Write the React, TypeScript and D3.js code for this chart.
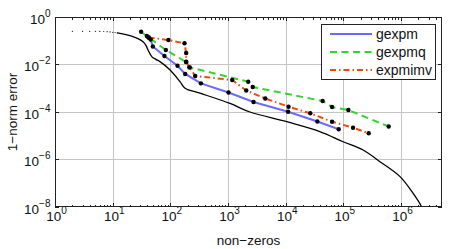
import React, { useEffect, useRef } from 'react';
import * as d3 from 'd3';

// [non-zeros, 1-norm error]
const gexpm: [number, number][] = [
  [45.5, 0.113], [49.7, 0.0573], [79, 0.0228], [133, 0.0089], [181, 0.004],
  [339, 0.00161], [1020, 6.6e-4], [2770, 2.64e-4], [1.1e4, 1.03e-4],
  [3.54e4, 3.98e-5], [8.3e4, 1.87e-5],
];

const gexpmq: [number, number][] = [
  [31.1, 0.24], [39.1, 0.158], [42, 0.137], [83.5, 0.0408], [188, 0.0127],
  [215, 0.0076], [2240, 0.00189], [2680, 0.00113], [4.37e4, 2.9e-4],
  [6.37e4, 1.62e-4], [1.22e5, 1.21e-4], [6.1e5, 2.45e-5],
];

const expmimv: [number, number][] = [
  [42, 0.137], [92.7, 0.1075], [176, 0.078], [188, 0.0305], [188, 0.0131],
  [215, 0.0076], [270, 0.00328], [1183, 0.00223], [2070, 8.04e-4],
  [4420, 3.7e-4], [1.12e4, 1.67e-4], [2.67e4, 8.8e-5], [6.37e4, 3.9e-5],
  [1.47e5, 2.18e-5], [2.75e5, 1.27e-5],
];

// black reference curve: sparse samples at the start, then a line
const refDots: [number, number][] = [
  [2, 0.25], [3, 0.25], [4, 0.25], [5, 0.25], [6, 0.248], [7, 0.245],
  [8, 0.24], [9, 0.235], [10, 0.228], [11, 0.22], [12, 0.213],
];
const refLine: [number, number][] = [
  [12, 0.213], [13.4, 0.206], [17, 0.18], [22.5, 0.148], [28, 0.12], [33.6, 0.091],
  [38, 0.062], [41, 0.041], [48, 0.021], [56, 0.0165], [66, 0.0132], [99, 0.0059],
  [147, 0.0019], [180, 0.001], [327, 6.2e-4], [1080, 2.3e-4], [2400, 1.0e-4],
  [1.04e4, 3.9e-5], [3.9e4, 1.5e-5], [9.9e4, 5.6e-6], [2.2e5, 2.5e-6],
  [4.3e5, 8.1e-7], [9.6e5, 1.9e-7], [1.6e6, 3.9e-8], [2.28e6, 1e-8], [2.6e6, 4e-9],
];

const xTicks = [0, 1, 2, 3, 4, 5, 6];
const yTicks = [0, -2, -4, -6, -8];
const legendNames = ['gexpm', 'gexpmq', 'expmimv'];

const App = () => {
  const ref = useRef<SVGSVGElement>(null);

  useEffect(() => {
    if (!ref.current) return;
    const width = 453;
    const height = 249;
    const marginLeft = 55;
    const marginRight = 11;
    const marginTop = 17;
    const marginBottom = 42;
    const font = "'Liberation Sans', Arial, sans-serif";

    const svg = d3.select(ref.current);
    svg.selectAll('*').remove();
    svg.attr('width', width).attr('height', height)
      .attr('viewBox', [0, 0, width, height].join(' '))
      .style('font-family', font);

    const x = d3.scaleLog().domain([1, Math.pow(10, 6.71)]).range([marginLeft, width - marginRight]);
    const y = d3.scaleLog().domain([1e-8, 1]).range([height - marginBottom, marginTop]);
    const [x0, x1] = x.range();
    const [y0, y1] = [y(1), y(1e-8)];

    svg.append('defs').append('clipPath').attr('id', 'plot-clip')
      .append('rect').attr('x', x0).attr('y', y0).attr('width', x1 - x0).attr('height', y1 - y0);

    // grid
    const grid = svg.append('g').attr('stroke', '#c4c4c4').attr('stroke-width', 1).attr('shape-rendering', 'crispEdges');
    grid.selectAll('line.gx').data(xTicks.slice(1)).join('line')
      .attr('x1', d => Math.round(x(Math.pow(10, d))) + 0.5).attr('x2', d => Math.round(x(Math.pow(10, d))) + 0.5)
      .attr('y1', y0).attr('y2', y1);
    grid.selectAll('line.gy').data(yTicks.slice(1, -1)).join('line')
      .attr('y1', d => Math.round(y(Math.pow(10, d))) + 0.5).attr('y2', d => Math.round(y(Math.pow(10, d))) + 0.5)
      .attr('x1', x0).attr('x2', x1);

    // ticks
    const ticks = svg.append('g').attr('stroke', '#222').attr('stroke-width', 1).attr('shape-rendering', 'crispEdges');
    const minor: number[] = [];
    xTicks.forEach(e => { for (let k = 2; k <= 9; k++) if (k * Math.pow(10, e) <= x.domain()[1]) minor.push(k * Math.pow(10, e)); });
    const xt = [...xTicks.map(e => ({ v: Math.pow(10, e), len: 4 })), ...minor.map(v => ({ v, len: 2.5 }))];
    xt.forEach(t => {
      const px = Math.round(x(t.v)) + 0.5;
      ticks.append('line').attr('x1', px).attr('x2', px).attr('y1', y1).attr('y2', y1 - t.len);
      ticks.append('line').attr('x1', px).attr('x2', px).attr('y1', y0).attr('y2', y0 + t.len);
    });
    yTicks.forEach(e => {
      const py = Math.round(y(Math.pow(10, e))) + 0.5;
      ticks.append('line').attr('y1', py).attr('y2', py).attr('x1', x0).attr('x2', x0 + 4);
      ticks.append('line').attr('y1', py).attr('y2', py).attr('x1', x1).attr('x2', x1 - 4);
    });

    // tick labels
    const xl = svg.append('g').attr('font-size', 13.5).attr('fill', '#111');
    xTicks.forEach(e => {
      const t = xl.append('text').attr('x', x(Math.pow(10, e)) + 1.5).attr('y', 220.5).attr('text-anchor', 'middle');
      t.append('tspan').text('10');
      t.append('tspan').attr('dy', -7).attr('font-size', 10).text(String(e));
    });
    yTicks.forEach(e => {
      const t = xl.append('text').attr('x', 50.5).attr('y', y(Math.pow(10, e)) + 6.5).attr('text-anchor', 'end');
      t.append('tspan').text('10');
      t.append('tspan').attr('dy', -7).attr('font-size', 10).text(e === 0 ? '0' : '\u2212' + Math.abs(e));
    });

    svg.append('text').attr('x', (x0 + x1) / 2).attr('y', 245).attr('text-anchor', 'middle')
      .attr('font-size', 13.5).attr('fill', '#111').text('non\u2212zeros');
    svg.append('text').attr('transform', `translate(17,${(y0 + y1) / 2}) rotate(-90)`).attr('text-anchor', 'middle')
      .attr('font-size', 13.5).attr('fill', '#111').text('1\u2212norm error');

    const plot = svg.append('g').attr('clip-path', 'url(#plot-clip)');
    const line = d3.line<[number, number]>().x(d => x(d[0])).y(d => y(d[1]));

    plot.append('g').selectAll('circle').data(refDots).join('circle')
      .attr('cx', d => x(d[0])).attr('cy', d => y(d[1])).attr('r', 0.6).attr('fill', '#000');
    plot.append('path')
      .attr('d', line.curve(d3.curveCatmullRom.alpha(0.5))(refLine))
      .attr('fill', 'none').attr('stroke', '#000').attr('stroke-width', 1.3);
    line.curve(d3.curveLinear);

    const series = [
      { data: gexpm, color: '#6a6aff', dash: null },
      { data: gexpmq, color: '#33d433', dash: '7,4.5' },
      { data: expmimv, color: '#ee4a12', dash: '6,3,1.5,3' },
    ];
    series.forEach(s => {
      plot.append('path').attr('d', line(s.data))
        .attr('fill', 'none').attr('stroke', s.color).attr('stroke-width', 2)
        .attr('stroke-dasharray', s.dash);
    });
    series.forEach(s => {
      plot.append('g').selectAll('circle').data(s.data).join('circle')
        .attr('cx', d => x(d[0])).attr('cy', d => y(d[1])).attr('r', 2.2).attr('fill', '#000');
    });

    // axes box
    svg.append('rect').attr('x', x0 + 0.5).attr('y', y0 + 0.5).attr('width', x1 - x0 - 1).attr('height', y1 - y0 - 1)
      .attr('fill', 'none').attr('stroke', '#222').attr('stroke-width', 1).attr('shape-rendering', 'crispEdges');

    // legend
    const lg = svg.append('g');
    lg.append('rect').attr('x', 321.5).attr('y', 24.5).attr('width', 114).attr('height', 55)
      .attr('fill', '#fff').attr('stroke', '#222').attr('shape-rendering', 'crispEdges');
    series.forEach((s, i) => {
      const ly = 34 + i * 18;
      lg.append('line').attr('x1', 330).attr('x2', 372).attr('y1', ly).attr('y2', ly)
        .attr('stroke', s.color).attr('stroke-width', 2).attr('stroke-dasharray', s.dash);
      lg.append('text').attr('x', 376).attr('y', ly + 5).attr('font-size', 14).attr('fill', '#111').text(legendNames[i]);
    });
  }, []);

  return <svg ref={ref} style={{ position: 'absolute', left: 0, top: 0 }} />;
};

export default App;
